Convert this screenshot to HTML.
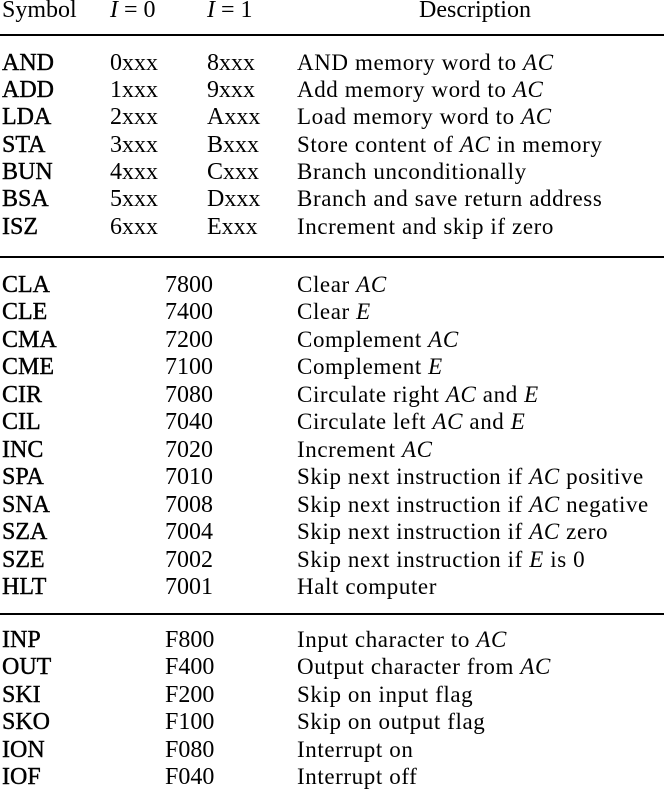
<!DOCTYPE html>
<html><head><meta charset="utf-8"><style>
html,body{margin:0;padding:0;background:#fff;}
body{width:664px;height:793px;position:relative;overflow:hidden;font-family:"Liberation Serif",serif;font-size:24px;color:#000;}
.r{position:absolute;left:0;width:664px;height:28px;line-height:28px;white-space:nowrap;}
.r span{position:absolute;top:0;}
.s{left:2px;-webkit-text-stroke:0.4px #000;}
.a{left:110px;}
.b{left:207px;}
.c{left:165px;}
.d{left:297px;font-size:23px;letter-spacing:0.6px;}
i{font-style:italic;}
.ln{position:absolute;left:0;width:664px;height:2px;background:#000;}
</style></head><body>
<div class="r" style="top:-4px"><span class="s" style="-webkit-text-stroke:0">Symbol</span><span class="a"><i>I</i> = 0</span><span class="b"><i>I</i> = 1</span><span style="left:419px">Description</span></div>
<div class="ln" style="top:34px"></div>
<div class="r" style="top:49px"><span class="s">AND</span><span class="a">0xxx</span><span class="b">8xxx</span><span class="d">AND memory word to <i>AC</i></span></div>
<div class="r" style="top:76px"><span class="s">ADD</span><span class="a">1xxx</span><span class="b">9xxx</span><span class="d">Add memory word to <i>AC</i></span></div>
<div class="r" style="top:103px"><span class="s">LDA</span><span class="a">2xxx</span><span class="b">Axxx</span><span class="d">Load memory word to <i>AC</i></span></div>
<div class="r" style="top:131px"><span class="s">STA</span><span class="a">3xxx</span><span class="b">Bxxx</span><span class="d">Store content of <i>AC</i> in memory</span></div>
<div class="r" style="top:158px"><span class="s">BUN</span><span class="a">4xxx</span><span class="b">Cxxx</span><span class="d">Branch unconditionally</span></div>
<div class="r" style="top:185px"><span class="s">BSA</span><span class="a">5xxx</span><span class="b">Dxxx</span><span class="d">Branch and save return address</span></div>
<div class="r" style="top:213px"><span class="s">ISZ</span><span class="a">6xxx</span><span class="b">Exxx</span><span class="d">Increment and skip if zero</span></div>
<div class="ln" style="top:256px"></div>
<div class="r" style="top:271px"><span class="s">CLA</span><span class="c">7800</span><span class="d">Clear <i>AC</i></span></div>
<div class="r" style="top:298px"><span class="s">CLE</span><span class="c">7400</span><span class="d">Clear <i>E</i></span></div>
<div class="r" style="top:326px"><span class="s">CMA</span><span class="c">7200</span><span class="d">Complement <i>AC</i></span></div>
<div class="r" style="top:353px"><span class="s">CME</span><span class="c">7100</span><span class="d">Complement <i>E</i></span></div>
<div class="r" style="top:381px"><span class="s">CIR</span><span class="c">7080</span><span class="d">Circulate right <i>AC</i> and <i>E</i></span></div>
<div class="r" style="top:408px"><span class="s">CIL</span><span class="c">7040</span><span class="d">Circulate left <i>AC</i> and <i>E</i></span></div>
<div class="r" style="top:436px"><span class="s">INC</span><span class="c">7020</span><span class="d">Increment <i>AC</i></span></div>
<div class="r" style="top:463px"><span class="s">SPA</span><span class="c">7010</span><span class="d">Skip next instruction if <i>AC</i> positive</span></div>
<div class="r" style="top:491px"><span class="s">SNA</span><span class="c">7008</span><span class="d">Skip next instruction if <i>AC</i> negative</span></div>
<div class="r" style="top:518px"><span class="s">SZA</span><span class="c">7004</span><span class="d">Skip next instruction if <i>AC</i> zero</span></div>
<div class="r" style="top:546px"><span class="s">SZE</span><span class="c">7002</span><span class="d">Skip next instruction if <i>E</i> is 0</span></div>
<div class="r" style="top:573px"><span class="s">HLT</span><span class="c">7001</span><span class="d">Halt computer</span></div>
<div class="ln" style="top:613px"></div>
<div class="r" style="top:626px"><span class="s">INP</span><span class="c">F800</span><span class="d">Input character to <i>AC</i></span></div>
<div class="r" style="top:653px"><span class="s">OUT</span><span class="c">F400</span><span class="d">Output character from <i>AC</i></span></div>
<div class="r" style="top:681px"><span class="s">SKI</span><span class="c">F200</span><span class="d">Skip on input flag</span></div>
<div class="r" style="top:708px"><span class="s">SKO</span><span class="c">F100</span><span class="d">Skip on output flag</span></div>
<div class="r" style="top:736px"><span class="s">ION</span><span class="c">F080</span><span class="d">Interrupt on</span></div>
<div class="r" style="top:763px"><span class="s">IOF</span><span class="c">F040</span><span class="d">Interrupt off</span></div>
</body></html>
